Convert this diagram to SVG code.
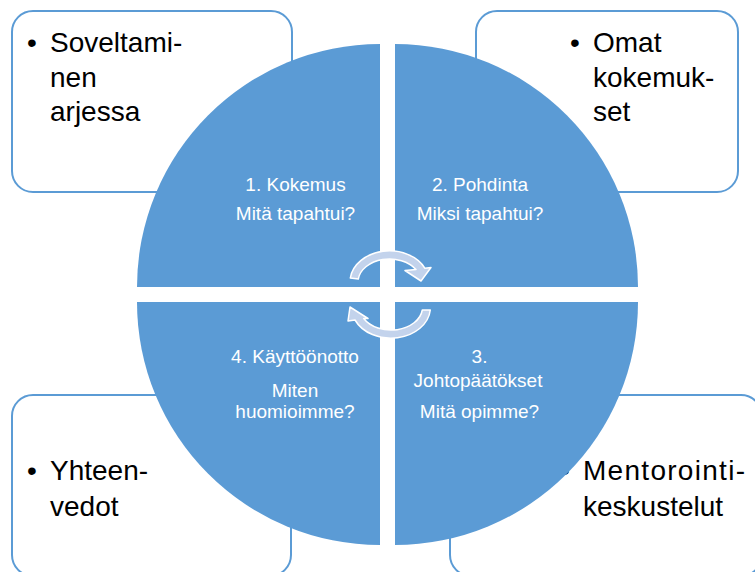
<svg xmlns="http://www.w3.org/2000/svg" width="755" height="572" viewBox="0 0 755 572">
  <style>
    .box { fill: #ffffff; stroke: #5b9bd5; stroke-width: 2; }
    .btxt { font-family: "Liberation Sans", Arial, sans-serif; font-size: 28px; fill: #000000; }
    .quad { fill: #5b9bd5; }
    .qtxt { font-family: "Liberation Sans", Arial, sans-serif; font-size: 19px; fill: #ffffff; text-anchor: middle; }
    .arr { fill: #c3d3ec; stroke: #ffffff; stroke-width: 1.5; stroke-linejoin: round; }
  </style>
  <rect width="755" height="572" fill="#ffffff"/>

  <g id="box-soveltaminen">
    <rect class="box" x="12" y="11" width="280" height="181" rx="21"/>
    <text class="btxt" x="27" y="52">•</text>
    <text class="btxt" x="50" y="52">Soveltami-</text>
    <text class="btxt" x="50" y="86.5">nen</text>
    <text class="btxt" x="50" y="121">arjessa</text>
  </g>
  <g id="box-omat">
    <rect class="box" x="476" y="11" width="262" height="181" rx="21"/>
    <text class="btxt" x="570" y="52">•</text>
    <text class="btxt" x="593" y="52">Omat</text>
    <text class="btxt" x="593" y="86.5">kokemuk-</text>
    <text class="btxt" x="593" y="121">set</text>
  </g>
  <g id="box-yhteenvedot">
    <rect class="box" x="12" y="395" width="279" height="181" rx="21"/>
    <text class="btxt" x="27" y="480">•</text>
    <text class="btxt" x="50" y="480">Yhteen-</text>
    <text class="btxt" x="50" y="516">vedot</text>
  </g>
  <g id="box-mentorointi">
    <rect class="box" x="450" y="395" width="312" height="181" rx="21"/>
    <text class="btxt" x="560" y="480">•</text>
    <text class="btxt" x="583" y="480" textLength="162">Mentorointi-</text>
    <text class="btxt" x="583" y="516">keskustelut</text>
  </g>

  <g id="q1-kokemus">
    <path class="quad" d="M380,287 L137,287 A243,243 0 0 1 380,44 Z"/>
    <text class="qtxt" x="295.5" y="191">1. Kokemus</text>
    <text class="qtxt" x="295.5" y="220">Mitä tapahtui?</text>
  </g>
  <g id="q2-pohdinta">
    <path class="quad" d="M395,287 L395,44 A243,243 0 0 1 638,287 Z"/>
    <text class="qtxt" x="480" y="191">2. Pohdinta</text>
    <text class="qtxt" x="480" y="220">Miksi tapahtui?</text>
  </g>
  <g id="q3-johtopaatokset">
    <path class="quad" d="M395,302 L638,302 A243,243 0 0 1 395,545 Z"/>
    <text class="qtxt" x="479.5" y="363">3.</text>
    <text class="qtxt" x="478" y="387">Johtopäätökset</text>
    <text class="qtxt" x="479.5" y="418">Mitä opimme?</text>
  </g>
  <g id="q4-kayttoonotto">
    <path class="quad" d="M380,302 L380,545 A243,243 0 0 1 137,302 Z"/>
    <text class="qtxt" x="295" y="363">4. Käyttöönotto</text>
    <text class="qtxt" x="295" y="397">Miten</text>
    <text class="qtxt" x="295" y="418">huomioimme?</text>
  </g>

  <g id="connectors">
    <path class="arr" d="M350.3,278 A39.5,31 0 0 1 425,268.3 L431,267.5 L421,281 L405,270.5 L416,269.5 A31.5,23 0 0 0 358.3,279 Z"/>
    <path class="arr" d="M430.3,310 A39.5,31 0 0 1 355,320 L348,321 L350,307 L368,318.5 L363.7,318.5 A31.5,23 0 0 0 422.3,310 Z"/>
  </g>
</svg>
